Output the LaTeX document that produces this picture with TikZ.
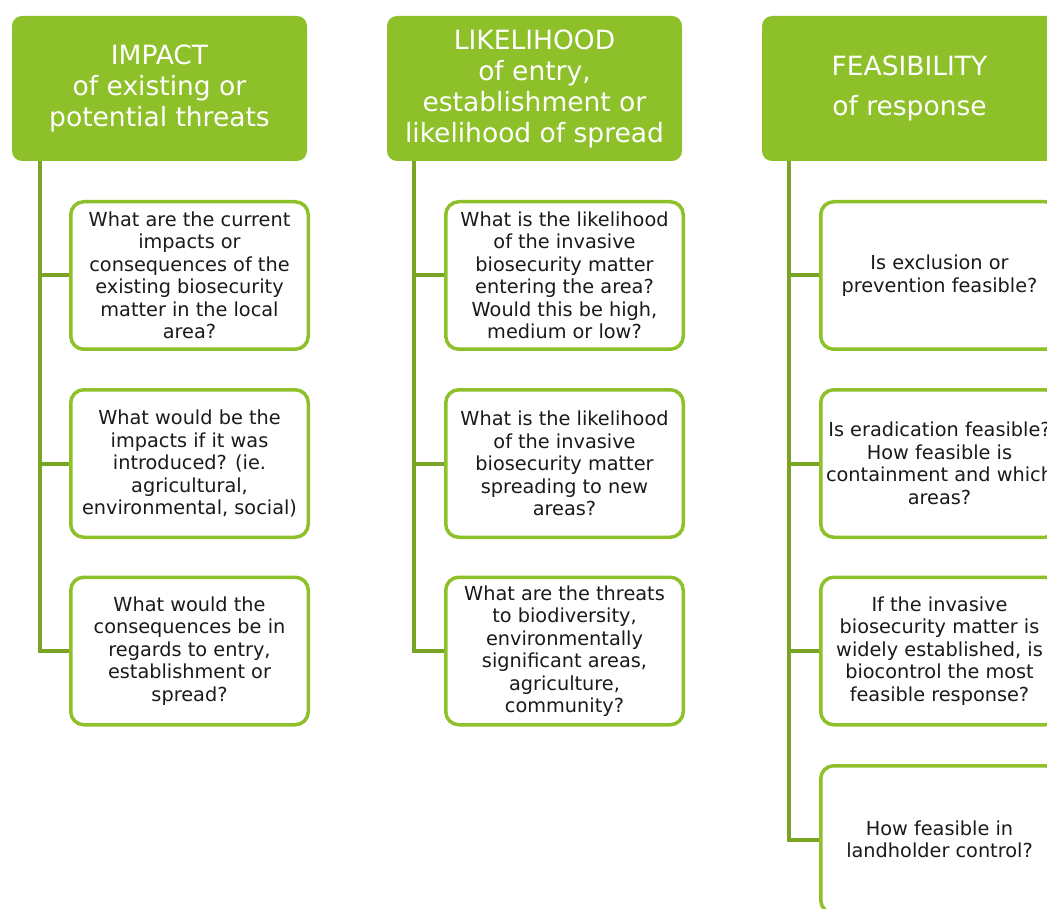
\documentclass[tikz,border=0pt]{standalone}
\usepackage{fontspec}
\setmainfont{DejaVu Sans}
\definecolor{leaf}{RGB}{141,192,41}
\definecolor{stem}{RGB}{122,164,36}
\definecolor{ink}{RGB}{26,26,26}
\tikzset{
  headbox/.style={fill=leaf, rounded corners=10pt, minimum width=295pt,
    minimum height=145pt, text=white, align=center, inner sep=0pt,
    font=\fontsize{26.5}{31}\selectfont},
  askbox/.style={draw=leaf, line width=3.5pt, fill=white, rounded corners=13pt,
    minimum width=237.5pt, minimum height=147.5pt, align=center, inner sep=0pt,
    text=ink, font=\fontsize{19.3}{22.5}\selectfont},
  link/.style={draw=stem, line width=4pt}
}
\begin{document}
\begin{tikzpicture}[x=1pt, y=-1pt]
\useasboundingbox (0,0) rectangle (1047,909);
\clip (0,0) rectangle (1047,909);

% column headers
\node[headbox] (h1) at (159.5,88.5) {IMPACT\\of existing or\\potential threats};
\node[headbox] (h2) at (534.5,88.5) {LIKELIHOOD\\of entry,\\establishment or\\likelihood of spread};
\node[headbox] (h3) at (909.5,88.5) {FEASIBILITY\\[9pt]of response};

% impact questions
\node[askbox] (a1) at (189.5,275.5) {What are the current\\impacts or\\consequences of the\\existing biosecurity\\matter in the local\\area?};
\node[askbox] (a2) at (189.5,463.5) {What would be the\\impacts if it was\\introduced? (ie.\\agricultural,\\environmental, social)};
\node[askbox] (a3) at (189.5,651) {What would the\\consequences be in\\regards to entry,\\establishment or\\spread?};

% likelihood questions
\node[askbox] (b1) at (564.5,275.5) {What is the likelihood\\of the invasive\\biosecurity matter\\entering the area?\\Would this be high,\\medium or low?};
\node[askbox] (b2) at (564.5,463.5) {What is the likelihood\\of the invasive\\biosecurity matter\\spreading to new\\areas?};
\node[askbox] (b3) at (564.5,651) {What are the threats\\to biodiversity,\\environmentally\\significant areas,\\agriculture,\\community?};

% feasibility questions
\node[askbox] (c1) at (939.5,275.5) {Is exclusion or\\prevention feasible?};
\node[askbox] (c2) at (939.5,463.5) {Is eradication feasible?\\How feasible is\\containment and which\\areas?};
\node[askbox] (c3) at (939.5,651) {If the invasive\\biosecurity matter is\\widely established, is\\biocontrol the most\\feasible response?};
\node[askbox] (c4) at (939.5,839.5) {How feasible in\\landholder control?};

% tree connectors
\foreach \q in {a1,a2,a3}
  \draw[link] ([xshift=28pt]h1.south west) |- (\q.west);
\foreach \q in {b1,b2,b3}
  \draw[link] ([xshift=27pt]h2.south west) |- (\q.west);
\foreach \q in {c1,c2,c3,c4}
  \draw[link] ([xshift=27pt]h3.south west) |- (\q.west);
\end{tikzpicture}
\end{document}
